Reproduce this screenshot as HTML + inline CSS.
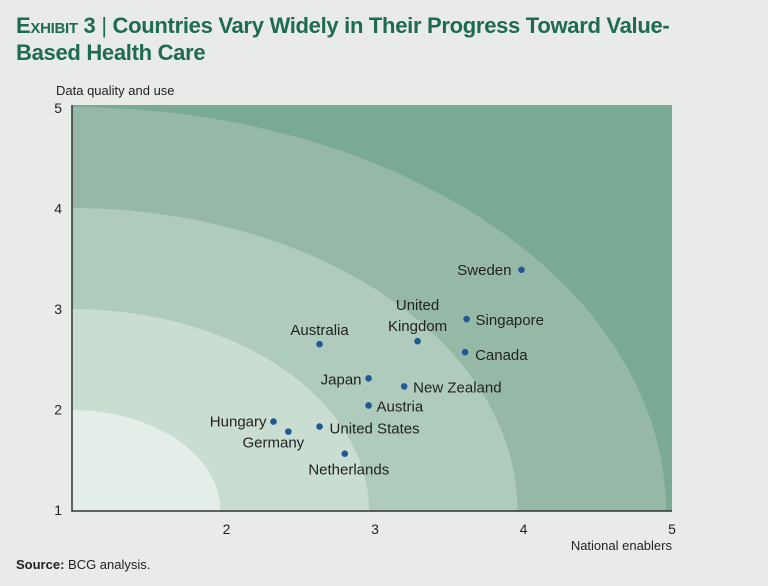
<!DOCTYPE html>
<html style="overflow:hidden"><head><meta charset="utf-8"><style>
html,body{margin:0;background:#e9ebe9;width:768px;height:586px;overflow:hidden;font-family:"Liberation Sans",sans-serif;}
.title{position:absolute;left:16px;top:12px;color:#1e6b50;font-weight:bold;font-size:22px;line-height:27px;white-space:nowrap;letter-spacing:-0.3px;}
.src{position:absolute;left:16px;top:557px;font-size:13px;color:#222;}
svg{position:absolute;left:0;top:0;}
</style></head><body>
<div class="title"><span style="font-variant:small-caps">Exhibit 3</span> <span style="font-weight:normal">|</span> Countries Vary Widely in Their Progress Toward Value-<br>Based Health Care</div>
<div class="src"><b>Source:</b> BCG analysis.</div>
<svg id="chart" width="768" height="586"></svg>
<script>
const countries=["Sweden","Singapore","Canada","United Kingdom","Australia","Japan","New Zealand","Austria","Hungary","Germany","United States","Netherlands"];
const enablers=[4.0,3.63,3.62,3.3,2.64,2.97,3.21,2.97,2.33,2.43,2.64,2.81];
const dataQuality=[3.38,2.89,2.56,2.67,2.64,2.3,2.22,2.03,1.87,1.77,1.82,1.55];
const ticks=[1,2,3,4,5];
const bandColors=["#7aa994","#95b9a6","#afcbbb","#c9ddd1","#e3eee8"];
const NS="http://www.w3.org/2000/svg";
const svg=document.getElementById("chart");
const L=72,R=672,T=105,B=511;
const x=v=>L+4+(v-1)*148.5, y=v=>B-2-(v-1)*100.5;
function mk(t,a){const e=document.createElementNS(NS,t);for(const k in a)e.setAttribute(k,a[k]);svg.appendChild(e);return e;}
const clip=mk("clipPath",{id:"pc"});const cr=document.createElementNS(NS,"rect");
cr.setAttribute("x",L);cr.setAttribute("y",T);cr.setAttribute("width",R-L);cr.setAttribute("height",B-T);clip.appendChild(cr);
let bg=mk("rect",{x:L,y:T,width:R-L,height:B-T,fill:bandColors[0]});


for(let k=4;k>=1;k--){
 const e=mk("ellipse",{cx:L,cy:B,rx:k*148.5,ry:k*101,fill:bandColors[5-k],"clip-path":"url(#pc)"});
 
 
}
let ax=mk("path",{d:`M${L} ${T}V${B}H${R}`,stroke:"#333",fill:"none","stroke-width":1.5});


ticks.forEach(t=>{
 const a=mk("text",{x:62,y:y(t)+6,"font-size":14,fill:"#222","text-anchor":"end"});a.textContent=t;
 
 
 if(t>1){const b=mk("text",{x:x(t)+2,y:534,"font-size":14,fill:"#222","text-anchor":"middle"});b.textContent=t;
 
 }
});
let yt=mk("text",{x:56,y:95,"font-size":13,fill:"#222"});yt.textContent="Data quality and use";


let xt=mk("text",{x:672,y:550,"font-size":13,fill:"#222","text-anchor":"end"});xt.textContent="National enablers";


const off={"Sweden":[-10,5,"end"],"Singapore":[9,6,"start"],"Canada":[10,8,"start"],"United Kingdom":[0,0,"middle"],"Australia":[0,-9,"middle"],"Japan":[-7,6,"end"],"New Zealand":[9,6,"start"],"Austria":[8,6,"start"],"Hungary":[-7,5,"end"],"Germany":[-15,16,"middle"],"United States":[10,7,"start"],"Netherlands":[4,21,"middle"]};
countries.forEach((c,i)=>{
 const px=x(enablers[i]),py=y(dataQuality[i]);
 const d=mk("circle",{cx:px,cy:py,r:3.3,fill:"#1f5a96"});
 
 
 const o=off[c];
 const t=mk("text",{x:px+o[0],y:py+o[1],"font-size":15,fill:"#222","text-anchor":o[2]});
 
 
 if(c==="United Kingdom"){
  t.setAttribute("y",py-31);t.textContent="United";
  const t2=mk("text",{x:px,y:py-10,"font-size":15,fill:"#222","text-anchor":"middle"});t2.textContent="Kingdom";
  
  
 } else t.textContent=c;
});
</script>
</body></html>
